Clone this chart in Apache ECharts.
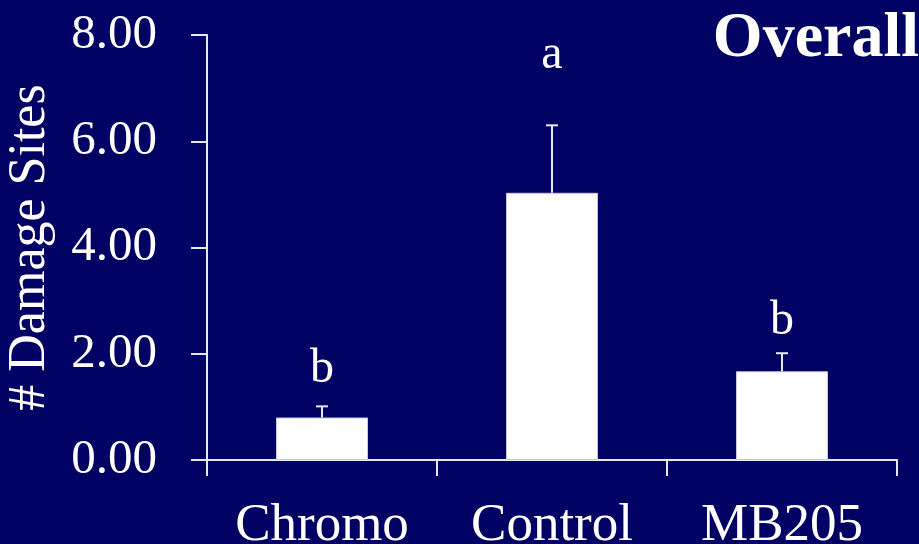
<!DOCTYPE html>
<html><head><meta charset="utf-8">
<script src="https://cdn.jsdelivr.net/npm/echarts@6/dist/echarts.min.js"></script>
<style>html,body{margin:0;padding:0;background:#020264;}#c{width:919px;height:544px;}</style>
</head><body><div id="c"></div>
<script>
const categories = ['Chromo', 'Control', 'MB205'];
const means = [0.80, 5.03, 1.67];
const errUpper = [1.01, 6.30, 2.01];
const letters = ['b', 'a', 'b'];
const letterPos = [1.70, 7.62, 2.61];
const yTicks = [0, 2, 4, 6, 8];

const chart = echarts.init(document.getElementById('c'));
const font = '"Liberation Serif", "Times New Roman", serif';
const fg = '#ffffff';
chart.setOption({
  backgroundColor: '#020264',
  animation: false,
  title: {
    text: 'Overall', right: -5, top: 2,
    textStyle: { color: fg, fontFamily: font, fontWeight: 'bold', fontSize: 64 }
  },
  grid: { left: 207, right: 22, top: 35, bottom: 84, containLabel: false, outerBoundsMode: 'none' },
  xAxis: {
    type: 'category', data: categories,
    axisLine: { lineStyle: { color: '#e8e8f4', width: 2 } },
    axisTick: { show: true, length: 16, lineStyle: { color: '#e8e8f4', width: 2 } },
    axisLabel: { color: fg, fontFamily: font, fontSize: 53, margin: 40 }
  },
  yAxis: {
    type: 'value', min: 0, max: 8, interval: 2,
    name: '# Damage Sites', nameLocation: 'middle', nameGap: 151, nameRotate: 90,
    nameTextStyle: { color: fg, fontFamily: font, fontSize: 52 },
    axisLine: { show: true, lineStyle: { color: '#e8e8f4', width: 2 } },
    axisTick: { show: true, length: 16, lineStyle: { color: '#e8e8f4', width: 2 } },
    splitLine: { show: false },
    axisLabel: { color: fg, fontFamily: font, fontSize: 49, margin: 50,
      formatter: v => yTicks.includes(v) ? v.toFixed(2) : '' }
  },
  series: [
    {
      type: 'bar', data: means, barWidth: '40%',
      itemStyle: { color: '#ffffff', borderColor: '#c8c8e0', borderWidth: 1 }
    },
    {
      type: 'custom',
      data: categories.map((c, i) => [i, means[i], errUpper[i], letterPos[i]]),
      renderItem: function (params, api) {
        const i = params.dataIndex;
        const x = api.value(0);
        const p0 = api.coord([x, api.value(1)]);
        const p1 = api.coord([x, api.value(2)]);
        const pl = api.coord([x, api.value(3)]);
        const hw = 6;
        const style = { stroke: '#e8e8f4', lineWidth: 2 };
        return { type: 'group', children: [
          { type: 'line', shape: { x1: p0[0], y1: p0[1], x2: p1[0], y2: p1[1] }, style },
          { type: 'line', shape: { x1: p1[0] - hw, y1: p1[1], x2: p1[0] + hw, y2: p1[1] }, style },
          { type: 'text', x: pl[0], y: pl[1], style: { text: letters[i], fill: fg,
            font: '48px ' + font, align: 'center', verticalAlign: 'middle' } }
        ]};
      },
      z: 3
    }
  ]
});
</script></body></html>
